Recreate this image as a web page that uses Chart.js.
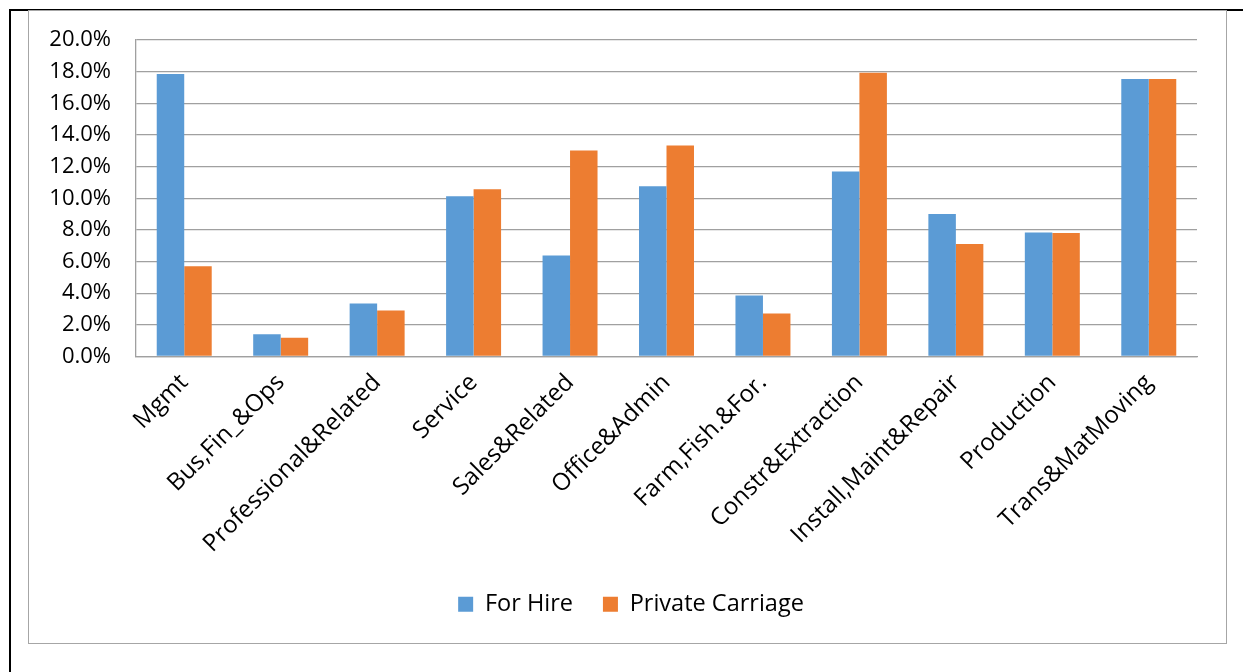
<!DOCTYPE html>
<html>
<head>
<meta charset="utf-8">
<script src="https://cdn.jsdelivr.net/npm/chart.js@4"></script>
<style>
  html, body { margin: 0; padding: 0; background: #fff; }
  body { width: 1243px; height: 672px; position: relative; overflow: hidden; }
  #outer { position: absolute; left: 9px; top: 9px; width: 1300px; height: 700px;
           border-top: 2px solid #000; border-left: 2px solid #000; }
  #frame { position: absolute; left: 28px; top: 10px; width: 1197px; height: 632px;
           border: 1px solid #a6a6a6; background: #fff; }
  #frame canvas { display: block; }
</style>
</head>
<body>
<div id="outer"></div>
<div id="frame"><canvas id="c" width="1197" height="632"></canvas></div>
<script>
const categories = ["Mgmt", "Bus,Fin_&Ops", "Professional&Related", "Service", "Sales&Related",
  "Office&Admin", "Farm,Fish.&For.", "Constr&Extraction", "Install,Maint&Repair", "Production", "Trans&MatMoving"];
const forHire = [17.85, 1.41, 3.35, 10.13, 6.39, 10.76, 3.86, 11.69, 9.0, 7.83, 17.53];
const privateCarriage = [5.7, 1.18, 2.9, 10.57, 13.02, 13.33, 2.72, 17.93, 7.11, 7.8, 17.53];
const seriesNames = ["For Hire", "Private Carriage"];
const seriesColors = ["#5B9BD5", "#ED7D31"];
const yTicks = [0, 2, 4, 6, 8, 10, 12, 14, 16, 18, 20];

const FONT = "'Open Sans', sans-serif";
const GRID = "#a0a0a0";

const legendShift = {
  id: "legendShift",
  afterLayout(chart) {
    const l = chart.legend;
    if (l) { l.left += 18; l.right += 18; }
  }
};

new Chart(document.getElementById("c"), {
  type: "bar",
  data: {
    labels: categories,
    datasets: [
      { label: seriesNames[0], data: forHire, backgroundColor: seriesColors[0], borderWidth: 0,
        categoryPercentage: 0.57, barPercentage: 1.0 },
      { label: seriesNames[1], data: privateCarriage, backgroundColor: seriesColors[1], borderWidth: 0,
        categoryPercentage: 0.57, barPercentage: 1.0 }
    ]
  },
  plugins: [legendShift],
  options: {
    responsive: false,
    animation: false,
    devicePixelRatio: 1,
    layout: { padding: { left: 0, right: 29, top: 29, bottom: 17 } },
    plugins: {
      tooltip: { enabled: false },
      legend: {
        position: "bottom",
        labels: {
          font: { family: FONT, size: 23.5 },
          color: "#000",
          boxWidth: 15, boxHeight: 15,
          padding: 30
        }
      }
    },
    scales: {
      x: {
        grid: { display: false, drawTicks: false },
        border: { display: true, color: GRID, width: 1.3 },
        ticks: {
          font: { family: FONT, size: 24 },
          color: "#000",
          maxRotation: 45, minRotation: 45,
          padding: 12,
          autoSkip: false
        },
        afterFit: (s) => { s.height = 206; }
      },
      y: {
        min: 0, max: 20,
        afterBuildTicks: (s) => { s.ticks = yTicks.map(v => ({ value: v })); },
        grid: { color: GRID, lineWidth: 1.3, drawTicks: false },
        border: { display: true, color: GRID, width: 1.3 },
        ticks: {
          font: { family: FONT, size: 22 },
          color: "#000",
          padding: 25,
          callback: (v) => Number(v).toFixed(1) + "%"
        },
        afterFit: (s) => { s.width = 107; s.paddingTop = 0; s.paddingBottom = 0; }
      }
    }
  }
});
</script>
</body>
</html>
